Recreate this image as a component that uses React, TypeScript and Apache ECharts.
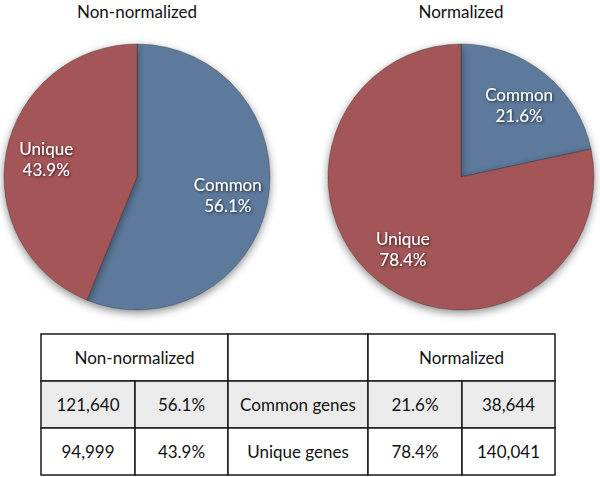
import React, { useEffect, useRef } from "react";
import * as echarts from "echarts";

// ---- data ----
const pieTitles = ["Non-normalized", "Normalized"];
const sliceNames = ["Common", "Unique"];
const nonNormalizedCounts = [121640, 94999];
const normalizedCounts = [38644, 140041];
const rowLabels = ["Common genes", "Unique genes"];

// ---- style / layout ----
const BLUE = "#5d7a9c";
const RED = "#a45558";
const FONT = "Lato, 'Open Sans', sans-serif";
const PIE_R = 133;
const PIE_CENTERS: [number, number][] = [
  [137, 177],
  [461, 177],
];
const COLS = [41, 135, 228, 368, 462, 555];
const ROWS = [334, 381, 428, 475];

const pct = (arr: number[], i: number) =>
  ((arr[i] / arr.reduce((a, b) => a + b, 0)) * 100).toFixed(1) + "%";
const fmt = (n: number) => n.toLocaleString("en-US");

function buildPieSeries(counts: number[], center: [number, number]) {
  const data = counts.map((v, i) => ({
    name: sliceNames[i],
    value: v,
    itemStyle: { color: i === 0 ? BLUE : RED },
  }));
  return [
    {
      type: "pie",
      center,
      radius: [0, PIE_R],
      startAngle: 90,
      clockwise: true,
      silent: true,
      label: { show: false },
      labelLine: { show: false },
      itemStyle: {
        borderColor: "rgba(40,40,40,0.45)",
        borderWidth: 0.8,
        shadowBlur: 8,
        shadowOffsetY: 3,
        shadowColor: "rgba(0,0,0,0.45)",
      },
      data,
    },
    {
      type: "pie",
      center,
      radius: [46, PIE_R],
      startAngle: 90,
      clockwise: true,
      silent: true,
      percentPrecision: 1,
      itemStyle: { color: "transparent", borderWidth: 0 },
      label: {
        show: true,
        position: "inside",
        formatter: "{b}\n{d}%",
        color: "#ffffff",
        fontFamily: FONT,
        fontSize: 17,
        lineHeight: 21,
        textShadowColor: "rgba(0,0,0,0.75)",
        textShadowBlur: 3,
        textShadowOffsetX: 1,
        textShadowOffsetY: 1,
      },
      labelLine: { show: false },
      data: counts.map((v, i) => ({ name: sliceNames[i], value: v })),
    },
  ];
}

function buildTable() {
  const els: any[] = [];
  const cell = (x0: number, x1: number, y0: number, y1: number, text: string, fill: string) => {
    els.push({
      type: "rect",
      shape: { x: x0, y: y0, width: x1 - x0, height: y1 - y0 },
      style: { fill, stroke: "#1a1a1a", lineWidth: 1.5 },
    });
    if (text) {
      els.push({
        type: "text",
        x: (x0 + x1) / 2,
        y: (y0 + y1) / 2,
        style: {
          text,
          fill: "#111",
          font: `17px ${FONT}`,
          align: "center",
          verticalAlign: "middle",
        },
      });
    }
  };
  cell(COLS[0], COLS[2], ROWS[0], ROWS[1], pieTitles[0], "#fff");
  cell(COLS[2], COLS[3], ROWS[0], ROWS[1], "", "#fff");
  cell(COLS[3], COLS[5], ROWS[0], ROWS[1], pieTitles[1], "#fff");
  for (let r = 0; r < 2; r++) {
    const fill = r === 0 ? "#ebebeb" : "#ffffff";
    const y0 = ROWS[r + 1];
    const y1 = ROWS[r + 2];
    cell(COLS[0], COLS[1], y0, y1, fmt(nonNormalizedCounts[r]), fill);
    cell(COLS[1], COLS[2], y0, y1, pct(nonNormalizedCounts, r), fill);
    cell(COLS[2], COLS[3], y0, y1, rowLabels[r], fill);
    cell(COLS[3], COLS[4], y0, y1, pct(normalizedCounts, r), fill);
    cell(COLS[4], COLS[5], y0, y1, fmt(normalizedCounts[r]), fill);
  }
  return els;
}

export default function App() {
  const ref = useRef<HTMLDivElement>(null);
  useEffect(() => {
    document.body.style.margin = "0";
    const chart = echarts.init(ref.current!, undefined, { renderer: "svg" });
    chart.setOption({
      animation: false,
      backgroundColor: "#ffffff",
      title: pieTitles.map((t, i) => ({
        text: t,
        left: PIE_CENTERS[i][0],
        top: 3,
        padding: 0,
        textAlign: "center",
        textStyle: { fontFamily: FONT, fontSize: 17, fontWeight: "normal", color: "#111" },
      })),
      series: [
        ...buildPieSeries(nonNormalizedCounts, PIE_CENTERS[0]),
        ...buildPieSeries(normalizedCounts, PIE_CENTERS[1]),
      ],
      graphic: buildTable(),
    });
    return () => chart.dispose();
  }, []);
  return <div ref={ref} style={{ width: 600, height: 477 }} />;
}
